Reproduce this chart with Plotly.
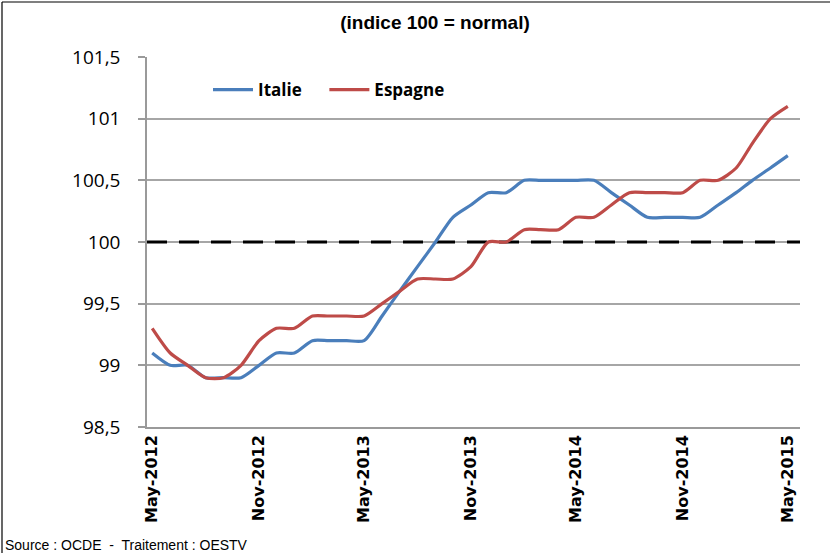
import plotly.graph_objects as go
import pandas as pd

months = pd.date_range("2012-05-01", "2015-05-01", freq="MS")

italie = [99.1, 99.0, 99.0, 98.9, 98.9, 98.9, 99.0, 99.1,
          99.1, 99.2, 99.2, 99.2, 99.2, 99.4, 99.6, 99.8, 100.0, 100.2, 100.3, 100.4,
          100.4, 100.5, 100.5, 100.5, 100.5, 100.5, 100.4, 100.3, 100.2, 100.2, 100.2, 100.2,
          100.3, 100.4, 100.5, 100.6, 100.7]
espagne = [99.3, 99.1, 99.0, 98.9, 98.9, 99.0, 99.2, 99.3,
           99.3, 99.4, 99.4, 99.4, 99.4, 99.5, 99.6, 99.7, 99.7, 99.7, 99.8, 100.0,
           100.0, 100.1, 100.1, 100.1, 100.2, 100.2, 100.3, 100.4, 100.4, 100.4, 100.4, 100.5,
           100.5, 100.6, 100.8, 101.0, 101.1]
normal_level = [100.0, 100.0]

x_tick_dates = ["2012-05-01", "2012-11-01", "2013-05-01", "2013-11-01",
                "2014-05-01", "2014-11-01", "2015-05-01"]
x_tick_labels = ["May-2012", "Nov-2012", "May-2013", "Nov-2013",
                 "May-2014", "Nov-2014", "May-2015"]
y_tick_vals = [98.5, 99, 99.5, 100, 100.5, 101, 101.5]
y_tick_labels = ["98,5", "99", "99,5", "100", "100,5", "101", "101,5"]

x_range = ["2012-04-22", "2015-05-22"]

fig = go.Figure()
fig.add_trace(go.Scatter(
    x=x_range, y=normal_level, mode="lines", showlegend=False,
    line=dict(color="black", width=3, dash="20px,12px"), hoverinfo="skip"))
fig.add_trace(go.Scatter(
    x=months, y=italie, mode="lines", name="Italie\u00a0\u00a0\u00a0\u00a0",
    line=dict(color="#4A7EBB", width=3.2, shape="spline", smoothing=0.7)))
fig.add_trace(go.Scatter(
    x=months, y=espagne, mode="lines", name="Espagne",
    line=dict(color="#BE4B48", width=3.2, shape="spline", smoothing=0.7)))

L, R, T, B = 147, 30, 57, 126
pw, ph = 830 - L - R, 553 - T - B

fig.update_layout(
    width=830, height=553,
    margin=dict(l=L, r=R, t=T, b=B, pad=0, autoexpand=False),
    paper_bgcolor="white", plot_bgcolor="white",
    showlegend=True,
    legend=dict(orientation="h", x=(208 - L) / pw, y=(T + ph - 90) / ph,
                xanchor="left", yanchor="middle", bgcolor="rgba(0,0,0,0)",
                font=dict(family="Open Sans, DejaVu Sans", size=17, color="black",
                          weight="bold"),
                itemwidth=40, traceorder="normal"),
    title=dict(text="<b>(indice 100 = normal)</b>", x=435 / 830, xref="container",
               xanchor="center", y=1 - 22 / 553, yref="container", yanchor="middle",
               font=dict(family="Liberation Sans Narrow, Liberation Sans", size=19,
                         color="black")),
    xaxis=dict(type="date", range=x_range, tickvals=x_tick_dates,
               ticktext=x_tick_labels, tickangle=-90, showgrid=False,
               showline=True, linecolor="#9a9a9a", linewidth=1.5, ticks="",
               tickfont=dict(family="DejaVu Sans", size=16, color="black",
                             weight="bold"),
               zeroline=False, automargin=False),
    yaxis=dict(range=[98.5, 101.5], tickvals=y_tick_vals, ticktext=y_tick_labels,
               showgrid=True, gridcolor="#a6a6a6", gridwidth=1.5,
               showline=True, linecolor="#9a9a9a", linewidth=1.5,
               ticks="outside", ticklen=7, tickcolor="#9a9a9a", tickwidth=1.5,
               ticklabelstandoff=14,
               tickfont=dict(family="Open Sans, Liberation Sans", size=19, color="black"),
               zeroline=False, automargin=False),
    font=dict(family="Liberation Sans", color="black"),
)

fig.add_annotation(text="Source : OCDE  -  Traitement : OESTV", xref="paper", yref="paper",
                   x=(3 - L) / pw, y=(T + ph - 545) / ph, xanchor="left", yanchor="middle",
                   showarrow=False,
                   font=dict(family="Liberation Sans Narrow, Liberation Sans", size=14,
                             color="black"))

# frame lines (top and left)
fig.add_shape(type="line", xref="paper", yref="paper",
              x0=(2 - L) / pw, x1=(830 - L) / pw, y0=(T + ph - 2) / ph, y1=(T + ph - 2) / ph,
              line=dict(color="black", width=1.2))
fig.add_shape(type="line", xref="paper", yref="paper",
              x0=(2 - L) / pw, x1=(2 - L) / pw, y0=(T + ph - 2) / ph, y1=(T + ph - 560) / ph,
              line=dict(color="black", width=1.2))

fig.write_html("out.html", config={"displayModeBar": False},
               post_script="document.body.style.margin='0';document.body.style.overflow='hidden';")
